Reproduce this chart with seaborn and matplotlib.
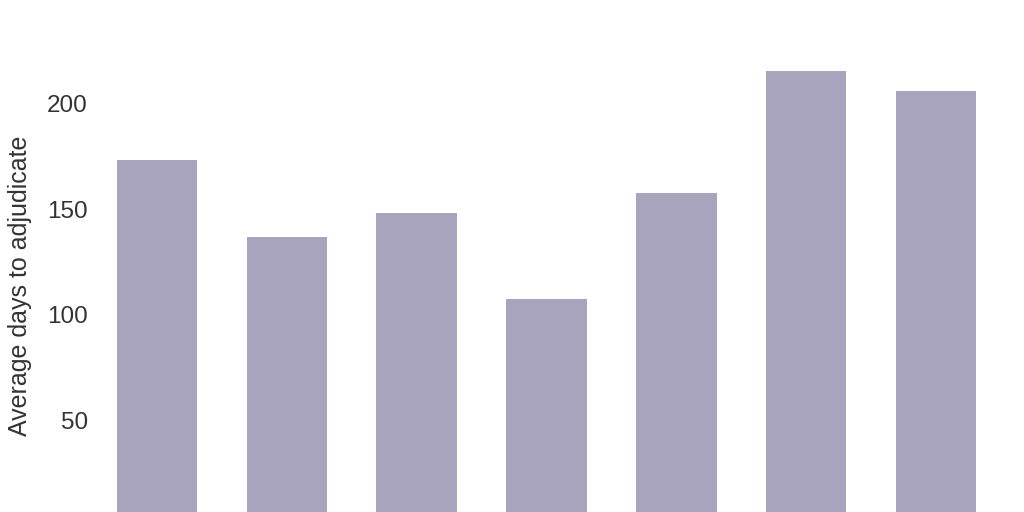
import matplotlib
matplotlib.use('Agg')
import pandas as pd
import seaborn as sns
import matplotlib.pyplot as plt

categories = ['A', 'B', 'C', 'D', 'E', 'F', 'G']
avg_days = [173, 136.7, 148, 107.4, 157.5, 215.2, 205.8]

sns.set_theme(style='white')
plt.rcParams['font.family'] = ['Liberation Sans', 'DejaVu Sans']

df = pd.DataFrame({'category': categories, 'days': avg_days})

fig = plt.figure(figsize=(10.24, 5.12), dpi=100)
ax = fig.add_axes([92 / 1024, -14 / 512, 909 / 1024, 486 / 512])
sns.barplot(data=df, x='category', y='days', color='#a8a4bd', saturation=1,
            width=0.62, linewidth=0, ax=ax)
ax.set_ylim(0, 230)
ax.set_xlim(-0.5, 6.5)
ax.set_yticks([50, 100, 150, 200])
ax.tick_params(axis='y', length=0, pad=3, labelsize=17.5, labelcolor='#333333')
ax.set_xticks([])
ax.set_xlabel('')
ax.set_ylabel('Average days to adjudicate', fontsize=18, color='#333333')
ax.yaxis.set_label_coords(-0.066, 0.494)
sns.despine(ax=ax, left=True, bottom=True)

fig.savefig('out.png', dpi=100)
